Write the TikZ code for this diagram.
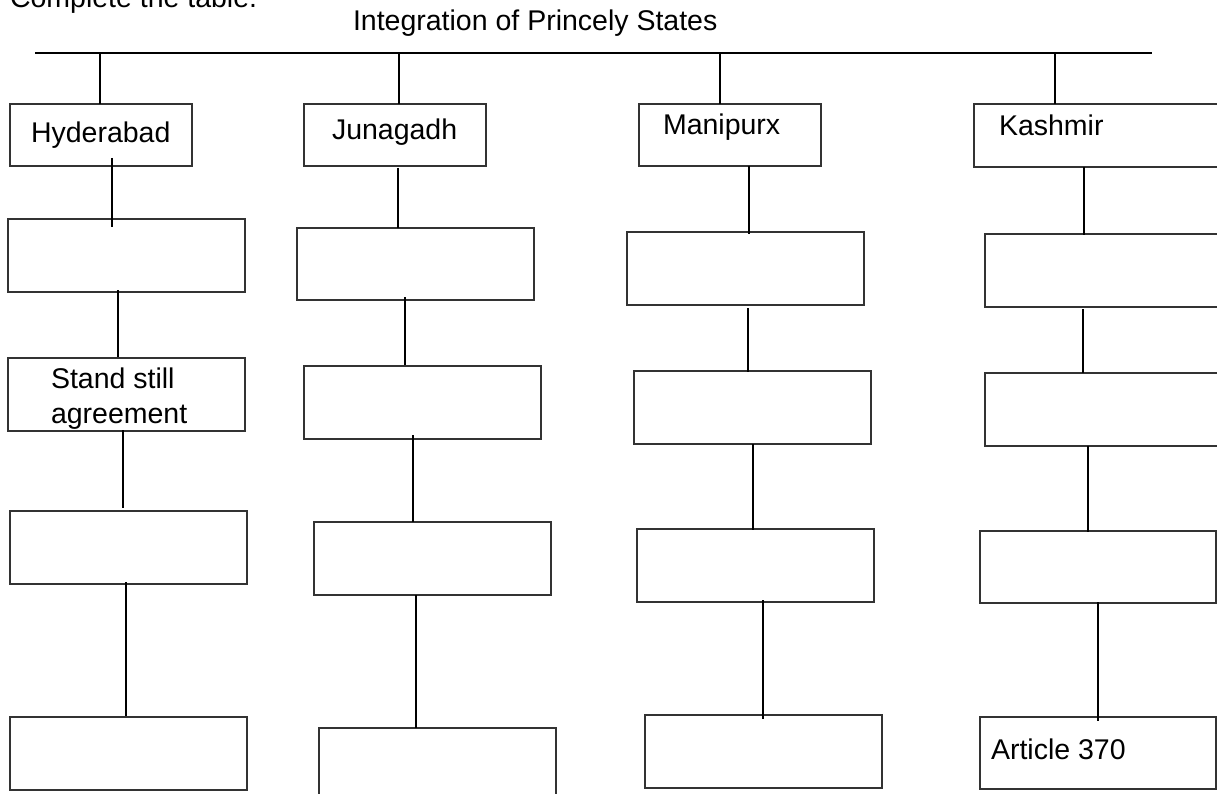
\documentclass[tikz,border=0pt]{standalone}
\usepackage{fontspec}
\setmainfont{Liberation Sans}
\usetikzlibrary{calc}
\begin{document}
\begin{tikzpicture}[x=1pt,y=-1pt,
  box/.style={draw=black!80,line width=1.3pt,inner sep=0pt,outer sep=0pt,anchor=north west},
  conn/.style={draw=black,line width=1.7pt},
  txt/.style={inner sep=0pt,outer sep=0pt,anchor=base west,font=\fontsize{28.5}{35}\selectfont}]
\useasboundingbox (0,0) rectangle (1217,794);
% titles
\node[txt] (title) at (10,8) {Complete the table.};
\node[txt] (head) at (353,31) {Integration of Princely States};
% bar
\coordinate (barL) at (35,53);
\coordinate (barR) at (1152,53);
\draw[conn] (barL) -- (barR);
% Hyderabad column
\node[box,minimum width=182pt,minimum height=62pt] (h1) at (10,104) {};
\node[box,minimum width=237pt,minimum height=73pt] (h2) at (8,219) {};
\node[box,minimum width=237pt,minimum height=73pt] (h3) at (8,358) {};
\node[box,minimum width=237pt,minimum height=73pt] (h4) at (10,511) {};
\node[box,minimum width=237pt,minimum height=73pt] (h5) at (10,717) {};
% Junagadh column
\node[box,minimum width=182pt,minimum height=62pt] (j1) at (304,104) {};
\node[box,minimum width=237pt,minimum height=72pt] (j2) at (297,228) {};
\node[box,minimum width=237pt,minimum height=73pt] (j3) at (304,366) {};
\node[box,minimum width=237pt,minimum height=73pt] (j4) at (314,522) {};
\node[box,minimum width=237pt,minimum height=73pt] (j5) at (319,728) {};
% Manipur column
\node[box,minimum width=182pt,minimum height=62pt] (m1) at (639,104) {};
\node[box,minimum width=237pt,minimum height=73pt] (m2) at (627,232) {};
\node[box,minimum width=237pt,minimum height=73pt] (m3) at (634,371) {};
\node[box,minimum width=237pt,minimum height=73pt] (m4) at (637,529) {};
\node[box,minimum width=237pt,minimum height=73pt] (m5) at (645,715) {};
% Kashmir column
\node[box,minimum width=248pt,minimum height=63pt] (k1) at (974,104) {};
\node[box,minimum width=237pt,minimum height=73pt] (k2) at (985,234) {};
\node[box,minimum width=237pt,minimum height=73pt] (k3) at (985,373) {};
\node[box,minimum width=236pt,minimum height=72pt] (k4) at (980,531) {};
\node[box,minimum width=236pt,minimum height=72pt] (k5) at (980,717) {};
% texts
\node[txt] (th) at (31,143) {Hyderabad};
\node[txt] (tj) at (332,140) {Junagadh};
\node[txt] (tm) at (663,135) {Manipurx};
\node[txt] (tk) at (999,136) {Kashmir};
\node[txt] (ts1) at (51,388) {Stand still};
\node[txt] (ts2) at (51,423) {agreement};
\node[txt] (ta) at (991,759) {Article 370};
% drops from bar
\path ($(h1.north west)+(90,0)$) coordinate (h1top);
\path ($(j1.north west)+(95,0)$) coordinate (j1top);
\path ($(m1.north west)+(81,0)$) coordinate (m1top);
\path ($(k1.north west)+(81,0)$) coordinate (k1top);
\draw[conn] (h1top |- barL) -- (h1top);
\draw[conn] (j1top |- barL) -- (j1top);
\draw[conn] (m1top |- barL) -- (m1top);
\draw[conn] (k1top |- barL) -- (k1top);
% Hyderabad connectors
\draw[conn] ($(h1.south west)+(102,-8)$) -- ($(h2.north west)+(104,8)$);
\draw[conn] ($(h2.south west)+(110,-2)$) -- ($(h3.north west)+(110,-1)$);
\draw[conn] ($(h3.south west)+(115,-1)$) -- ($(h4.north west)+(113,-3)$);
\draw[conn] ($(h4.south west)+(116,-2)$) -- ($(h5.north west)+(116,-1)$);
% Junagadh connectors
\draw[conn] ($(j1.south west)+(94,2)$) -- ($(j2.north west)+(101,0)$);
\draw[conn] ($(j2.south west)+(108,-3)$) -- ($(j3.north west)+(101,-1)$);
\draw[conn] ($(j3.south west)+(109,-4)$) -- ($(j4.north west)+(99,0)$);
\draw[conn] ($(j4.south west)+(102,0)$) -- ($(j5.north west)+(97,0)$);
% Manipur connectors
\draw[conn] ($(m1.south west)+(110,0)$) -- ($(m2.north west)+(122,2)$);
\draw[conn] ($(m2.south west)+(121,3)$) -- ($(m3.north west)+(114,1)$);
\draw[conn] ($(m3.south west)+(119,0)$) -- ($(m4.north west)+(116,1)$);
\draw[conn] ($(m4.south west)+(126,-2)$) -- ($(m5.north west)+(118,4)$);
% Kashmir connectors
\draw[conn] ($(k1.south west)+(110,0)$) -- ($(k2.north west)+(99,1)$);
\draw[conn] ($(k2.south west)+(98,2)$) -- ($(k3.north west)+(98,0)$);
\draw[conn] ($(k3.south west)+(103,0)$) -- ($(k4.north west)+(108,1)$);
\draw[conn] ($(k4.south west)+(118,-1)$) -- ($(k5.north west)+(118,4)$);
\end{tikzpicture}
\end{document}
